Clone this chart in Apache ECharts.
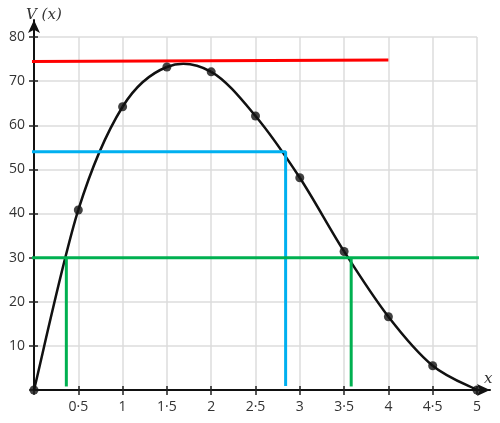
<!DOCTYPE html>
<html>
<head>
<meta charset="utf-8">
<script src="https://cdn.jsdelivr.net/npm/echarts@6/dist/echarts.min.js"></script>
<style>html,body{margin:0;padding:0;background:#fff}#c{width:500px;height:423px}</style>
</head>
<body>
<div id="c"></div>
<script>
// data
var xs = [0, 0.5, 1, 1.5, 2, 2.5, 3, 3.5, 4, 4.5, 5];
var vs = [0, 40.8, 64.2, 73.2, 72.1, 62.1, 48.1, 31.4, 16.6, 5.5, 0];
var redLine = [[-0.28, 74.4], [4, 74.8]];
var blueLine = [[-0.06, 54], [2.84, 54], [2.84, 0.9]];
var greenH = [[-0.09, 30], [5.3, 30]];
var greenV1 = [[0.365, 30], [0.365, 0.8]];
var greenV2 = [[3.58, 30], [3.58, 0.8]];

var chart = echarts.init(document.getElementById('c'), null, {renderer: 'canvas'});
var fmt = function (v) { return v === 0 ? '' : String(v).replace('.', '\u00b7'); };
var lbl = {color: '#333', fontSize: 14, fontFamily: 'Open Sans'};
var curve = xs.map(function (x, i) { return [x, vs[i]]; });

function seg(data, color, w) {
  return {type: 'line', data: data, xAxisIndex: 0, yAxisIndex: 0, clip: false, symbol: 'none',
    lineStyle: {color: color, width: w}, z: 4, silent: true, animation: false};
}

// smooth curve through the data points (Catmull-Rom segments via the axis scales)
function renderSeg(params, api) {
  var i = params.dataIndex, n = curve.length;
  if (i >= n - 1) return null;
  var p = function (k) { k = Math.max(0, Math.min(n - 1, k)); return api.coord(curve[k]); };
  var p0 = p(i - 1), p1 = p(i), p2 = p(i + 1), p3 = p(i + 2);
  return {
    type: 'bezierCurve',
    shape: {
      x1: p1[0], y1: p1[1], x2: p2[0], y2: p2[1],
      cpx1: p1[0] + (p2[0] - p0[0]) / 6, cpy1: p1[1] + (p2[1] - p0[1]) / 6,
      cpx2: p2[0] - (p3[0] - p1[0]) / 6, cpy2: p2[1] - (p3[1] - p1[1]) / 6
    },
    style: {stroke: '#111', lineWidth: 2.5, fill: null}
  };
}

chart.setOption({
  animation: false,
  grid: [
    {left: 34, top: 37, right: 23, bottom: 33},
    {left: 34, top: 20, right: 10, bottom: 33}
  ],
  xAxis: [
    {type: 'value', gridIndex: 0, min: 0, max: 5, interval: 0.5,
      axisLine: {show: false},
      axisTick: {show: true, length: 5, lineStyle: {color: '#222', width: 1.5}},
      axisLabel: Object.assign({formatter: fmt, margin: 10}, lbl),
      splitLine: {show: true, lineStyle: {color: '#dcdcdc', width: 1.5}}},
    {type: 'value', gridIndex: 0, min: 0, max: 5, interval: 0.5, position: 'bottom',
      axisLine: {show: false},
      axisTick: {show: true, inside: true, length: 4, lineStyle: {color: '#222', width: 1.5}},
      axisLabel: {show: false}, splitLine: {show: false}},
    {type: 'value', gridIndex: 1, min: 0, max: 1,
      name: 'x', nameLocation: 'end', nameGap: -6,
      nameTextStyle: {fontFamily: 'DejaVu Serif', fontStyle: 'italic', fontSize: 15, color: '#333',
        verticalAlign: 'bottom', padding: [0, 0, 3, 0]},
      axisLine: {show: true, symbol: ['none', 'arrow'], symbolSize: [9, 13], lineStyle: {color: '#111', width: 2}},
      axisTick: {show: false}, axisLabel: {show: false}, splitLine: {show: false}}
  ],
  yAxis: [
    {type: 'value', gridIndex: 0, min: 0, max: 80, interval: 10,
      axisLine: {show: false},
      axisTick: {show: true, length: 5, lineStyle: {color: '#222', width: 1.5}},
      axisLabel: Object.assign({formatter: fmt, margin: 9}, lbl),
      splitLine: {show: true, lineStyle: {color: '#dcdcdc', width: 1.5}}},
    {type: 'value', gridIndex: 0, min: 0, max: 80, interval: 10, position: 'left',
      axisLine: {show: false},
      axisTick: {show: true, inside: true, length: 4, lineStyle: {color: '#222', width: 1.5}},
      axisLabel: {show: false}, splitLine: {show: false}},
    {type: 'value', gridIndex: 1, min: 0, max: 1,
      name: 'V (x)', nameLocation: 'end', nameGap: -3,
      nameTextStyle: {fontFamily: 'DejaVu Serif', fontStyle: 'italic', fontSize: 15, color: '#333',
        align: 'left', padding: [0, 0, 0, -8]},
      axisLine: {show: true, symbol: ['none', 'arrow'], symbolSize: [9, 13], lineStyle: {color: '#111', width: 2}},
      axisTick: {show: false}, axisLabel: {show: false}, splitLine: {show: false}}
  ],
  series: [
    {type: 'custom', data: curve, xAxisIndex: 0, yAxisIndex: 0, renderItem: renderSeg,
      clip: false, silent: true, z: 3},
    {type: 'scatter', data: curve, xAxisIndex: 0, yAxisIndex: 0,
      symbol: 'circle', symbolSize: 9, itemStyle: {color: '#111'}, z: 5},
    seg(redLine, '#ff0000', 3),
    seg(blueLine, '#00b0f0', 3),
    seg(greenH, '#00b050', 3),
    seg(greenV1, '#00b050', 3),
    seg(greenV2, '#00b050', 3)
  ]
});
</script>
</body>
</html>
